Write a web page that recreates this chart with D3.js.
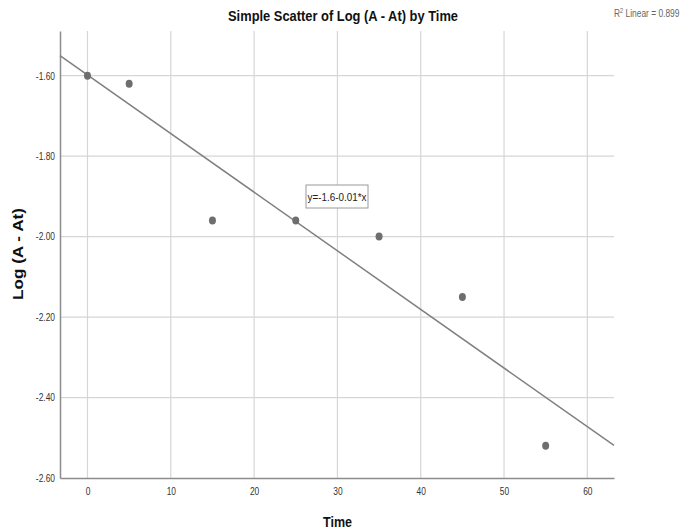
<!DOCTYPE html>
<html>
<head>
<meta charset="utf-8">
<script src="https://cdn.jsdelivr.net/npm/d3@7"></script>
<style>
  body { margin: 0; background: #fff; }
  svg text { font-family: "Liberation Sans", Arial, sans-serif; }
</style>
</head>
<body>
<div id="chart"></div>
<script>
// data
var times = [0, 5, 15, 25, 35, 45, 55];
var logValues = [-1.60, -1.62, -1.96, -1.96, -2.00, -2.15, -2.52];
var xTicks = [0, 10, 20, 30, 40, 50, 60];
var yTicks = [-1.60, -1.80, -2.00, -2.20, -2.40, -2.60];
var fitLabel = "y=-1.6-0.01*x";
var r2Label = "Linear = 0.899";

var W = 684, H = 529;
var margin = {top: 31, right: 70, bottom: 51, left: 60};
var squeeze = 0.8; // the original uses a narrow face

var svg = d3.select("#chart").append("svg")
  .attr("width", W)
  .attr("height", H);

var x = d3.scaleLinear().domain([-3.3, 63.2]).range([margin.left, W - margin.right]);
var y = d3.scaleLinear().domain([-2.6, -1.489]).range([H - margin.bottom, margin.top]);

// grid
svg.selectAll("vgrid").data(xTicks).enter().append("line")
  .attr("x1", function(d) { return x(d); })
  .attr("x2", function(d) { return x(d); })
  .attr("y1", y.range()[0])
  .attr("y2", y.range()[1])
  .style("stroke", "#d6d6d6")
  .style("stroke-width", 1.2);

svg.selectAll("hgrid").data(yTicks.slice(0, -1)).enter().append("line")
  .attr("x1", x.range()[0])
  .attr("x2", x.range()[1])
  .attr("y1", function(d) { return y(d); })
  .attr("y2", function(d) { return y(d); })
  .style("stroke", "#d6d6d6")
  .style("stroke-width", 1.2);

// axes
var xAxis = svg.append("g")
  .attr("transform", "translate(0," + y.range()[0] + ")")
  .call(d3.axisBottom(x).tickValues(xTicks).tickSize(0).tickPadding(10));
var yAxis = svg.append("g")
  .attr("transform", "translate(" + x.range()[0] + ",0)")
  .call(d3.axisLeft(y).tickValues(yTicks)
    .tickFormat(function(d) { return d.toFixed(2); })
    .tickSize(0).tickPadding(5));

[xAxis, yAxis].forEach(function(a) {
  a.select(".domain").style("stroke", "#8c8c8c").style("stroke-width", 1.5);
  a.selectAll("text")
    .attr("font-family", null)
    .style("font-size", "10.5px")
    .style("fill", "#333")
    .attr("x", function() { return +d3.select(this).attr("x") / squeeze; })
    .attr("transform", "scale(" + squeeze + ",1)");
});

// regression line, least squares on the data
var mx = d3.mean(times), my = d3.mean(logValues);
var sxy = d3.sum(times, function(t, i) { return (t - mx) * (logValues[i] - my); });
var sxx = d3.sum(times, function(t) { return (t - mx) * (t - mx); });
var slope = sxy / sxx, intercept = my - slope * mx;
var xd = x.domain();

svg.append("line")
  .attr("x1", x(xd[0]))
  .attr("y1", y(intercept + slope * xd[0]))
  .attr("x2", x(xd[1]))
  .attr("y2", y(intercept + slope * xd[1]))
  .style("stroke", "#808080")
  .style("stroke-width", 1.5);

// points
svg.selectAll("pt").data(times).enter().append("ellipse")
  .attr("cx", function(d) { return x(d); })
  .attr("cy", function(d, i) { return y(logValues[i]); })
  .attr("rx", 3.5)
  .attr("ry", 4)
  .style("fill", "#6e6e6e");

// equation box
var bx = 306, by = 185;
svg.append("rect")
  .attr("x", bx).attr("y", by)
  .attr("width", 62).attr("height", 23)
  .style("fill", "#fff")
  .style("stroke", "#9a9a9a")
  .style("stroke-width", 1);
svg.append("text")
  .attr("x", bx + 1.5).attr("y", by + 16)
  .attr("textLength", 59)
  .attr("lengthAdjust", "spacingAndGlyphs")
  .style("font-size", "11.5px")
  .style("fill", "#222")
  .text(fitLabel);

// R squared note
var r2 = svg.append("text")
  .attr("transform", "translate(614,17) scale(0.8,1)")
  .style("font-size", "10.5px")
  .style("fill", "#666");
r2.append("tspan").text("R");
r2.append("tspan").attr("dy", -4).style("font-size", "7px").text("2");
r2.append("tspan").attr("dy", 4).text(" " + r2Label);

// title and axis labels
svg.append("text")
  .attr("x", 228).attr("y", 21)
  .attr("textLength", 230)
  .attr("lengthAdjust", "spacingAndGlyphs")
  .style("font-size", "14px")
  .style("font-weight", "bold")
  .style("fill", "#111")
  .text("Simple Scatter of Log (A - At) by Time");

svg.append("text")
  .attr("x", 323).attr("y", 527)
  .attr("textLength", 29)
  .attr("lengthAdjust", "spacingAndGlyphs")
  .style("font-size", "14.5px")
  .style("font-weight", "bold")
  .style("fill", "#111")
  .text("Time");

svg.append("text")
  .attr("transform", "translate(23,254) rotate(-90)")
  .attr("x", -46)
  .attr("textLength", 92)
  .attr("lengthAdjust", "spacingAndGlyphs")
  .style("font-size", "15px")
  .style("font-weight", "bold")
  .style("fill", "#111")
  .text("Log (A - At)");
</script>
</body>
</html>
